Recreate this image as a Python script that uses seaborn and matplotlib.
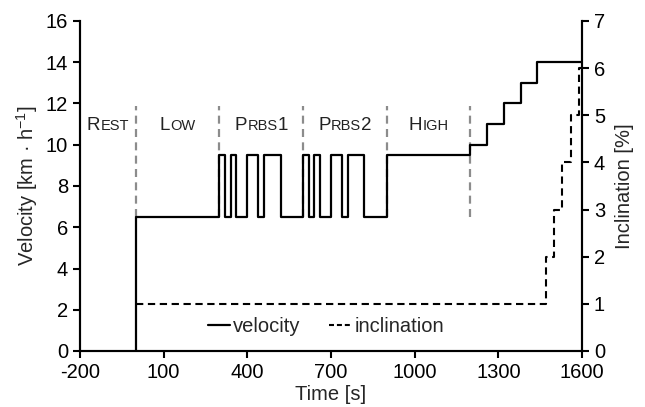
import numpy as np
import pandas as pd
import matplotlib
matplotlib.use("Agg")
import matplotlib.pyplot as plt
import seaborn as sns
from matplotlib.lines import Line2D
from matplotlib import transforms

# ---- data ----
vel_time = [0, 0, 300, 320, 340, 360, 400, 440, 460, 520, 600, 620, 640, 660,
            700, 740, 760, 820, 900, 1200, 1260, 1320, 1380, 1440, 1600]
vel_value = [0, 6.5, 9.5, 6.5, 9.5, 6.5, 9.5, 6.5, 9.5, 6.5, 9.5, 6.5, 9.5, 6.5,
             9.5, 6.5, 9.5, 6.5, 9.5, 10, 11, 12, 13, 14, 14]
inc_time = [0, 1470, 1500, 1530, 1560, 1590, 1600]
inc_value = [1, 2, 3, 4, 5, 6, 6]
phase_bounds = [0, 300, 600, 900, 1200]
# small-caps phase labels: (text, is_capital)
phase_names = [[("R", 1), ("EST", 0)],
               [("L", 1), ("OW", 0)],
               [("P", 1), ("RBS", 0), ("1", 1)],
               [("P", 1), ("RBS", 0), ("2", 1)],
               [("H", 1), ("IGH", 0)]]
phase_centers = [-100, 150, 450, 750, 1050]
x_ticks = [-200, 100, 400, 700, 1000, 1300, 1600]

sns.set_theme(style="ticks")
plt.rcParams["font.family"] = ["Liberation Sans", "DejaVu Sans"]
plt.rcParams["mathtext.fontset"] = "custom"
plt.rcParams["mathtext.rm"] = "Liberation Sans"
plt.rcParams["axes.unicode_minus"] = False
plt.rcParams["axes.edgecolor"] = "black"
plt.rcParams["axes.linewidth"] = 1.5
for a in ("x", "y"):
    plt.rcParams[f"{a}tick.major.width"] = 1.5
    plt.rcParams[f"{a}tick.major.size"] = 5
    plt.rcParams[f"{a}tick.color"] = "black"
    plt.rcParams[f"{a}tick.labelsize"] = 14.5

fig = plt.figure(figsize=(6.45, 4.07), dpi=100)
ax = fig.add_axes([80/645, 1 - 351/407, 502/645, 330/407])
ax2 = ax.twinx()

vel_df = pd.DataFrame({"time": vel_time, "velocity": vel_value})
inc_df = pd.DataFrame({"time": inc_time, "inclination": inc_value})

sns.lineplot(data=vel_df, x="time", y="velocity", ax=ax, color="black",
             linewidth=1.6, drawstyle="steps-post", estimator=None, sort=False,
             zorder=5)
sns.lineplot(data=inc_df, x="time", y="inclination", ax=ax2, color="black",
             linewidth=1.5, drawstyle="steps-post", estimator=None, sort=False,
             linestyle=(0, (3.5, 2.2)), zorder=5)

ax.vlines(phase_bounds, 6.5, 11.9, colors="#8c8c8c", linewidth=1.6,
          linestyles=[(0, (3.6, 2.4))], zorder=4)

ax.set_xlim(-200, 1600)
ax.set_ylim(0, 16)
ax2.set_ylim(0, 7)
ax.set_xticks(x_ticks)
ax.set_yticks(range(0, 17, 2))
ax2.set_yticks(range(0, 8))
ax.set_xlabel("Time [s]", fontsize=14.5, labelpad=2)
ax.set_ylabel(r"Velocity [km · h$^{\mathregular{-1}}$]", fontsize=14.5, labelpad=4)
ax2.set_ylabel("Inclination [%]", fontsize=14.5, labelpad=7)
for a in (ax, ax2):
    a.spines["top"].set_visible(False)
    a.grid(False)
ax2.spines["right"].set_visible(True)
ax2.spines["right"].set_linewidth(1.5)

# small caps phase labels
fig.canvas.draw()
renderer = fig.canvas.get_renderer()
for parts, xc in zip(phase_names, phase_centers):
    texts, widths = [], []
    for s, cap in parts:
        t = ax.text(xc, 10.7, s, fontsize=13.5 if cap else 10.5, va="baseline",
                    ha="left", color="#222222")
        texts.append(t)
        widths.append(t.get_window_extent(renderer).width)
    total = sum(widths)
    off = -total / 2
    for t, w in zip(texts, widths):
        t.set_transform(ax.transData + transforms.ScaledTranslation(off / 100, 0, fig.dpi_scale_trans))
        off += w

handles = [Line2D([], [], color="black", lw=1.6),
           Line2D([], [], color="black", lw=1.5, linestyle=(0, (2.4, 1.4)))]
ax.legend(handles, ["velocity", "inclination"], loc="center", bbox_to_anchor=(0.49, 0.075),
          ncol=2, frameon=False, fontsize=14.5, handlelength=1.1, handletextpad=0.15,
          columnspacing=1.4, borderaxespad=0)

fig.savefig("out.png", dpi=100)
